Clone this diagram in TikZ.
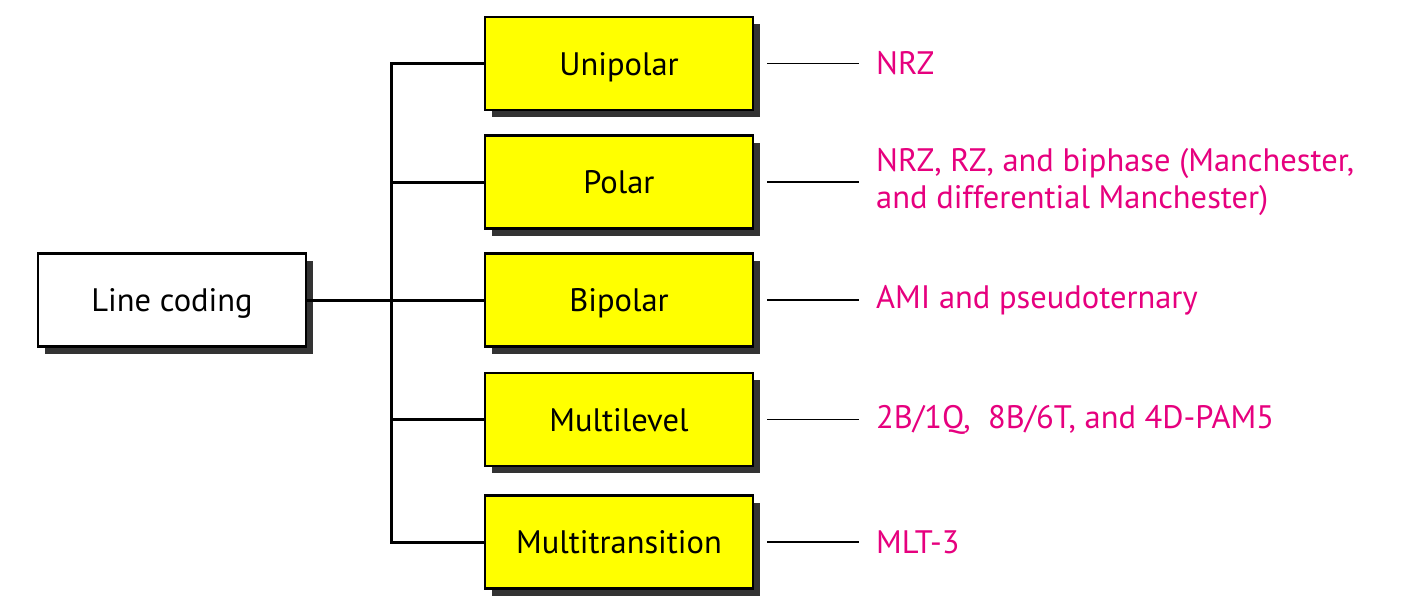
\documentclass[tikz,border=0pt]{standalone}
\usepackage{fontspec}
\setmainfont{PT Sans}
\usetikzlibrary{shadows}
\definecolor{boxyellow}{RGB}{255,255,0}
\definecolor{shadowgray}{RGB}{51,51,51}
\definecolor{labelmagenta}{RGB}{230,0,126}
\tikzset{
  basebox/.style={draw=black, line width=2.5pt, minimum width=268pt, minimum height=93pt,
    inner sep=0pt, text height=23pt, text depth=0pt, font=\fontsize{32.5}{37}\selectfont,
    general shadow={fill=shadowgray, shadow xshift=7pt, shadow yshift=-7pt}},
  rootbox/.style={basebox, fill=white},
  catbox/.style={basebox, fill=boxyellow},
  trunkline/.style={line width=3pt},
  leafline/.style={line width=1.6pt},
  leaflabel/.style={anchor=west, inner xsep=17pt, inner ysep=0pt, align=left,
    text=labelmagenta, font=\fontsize{32.5}{37}\selectfont}
}
\begin{document}
\begin{tikzpicture}[x=1pt,y=-1pt]
\useasboundingbox (0,0) rectangle (1406,606);
\node[rootbox] (lc) at (172,300) {Line coding};
\node[catbox] (u)  at (619,63.5) {Unipolar};
\node[catbox] (p)  at (619,182) {Polar};
\node[catbox] (b)  at (619,300) {Bipolar};
\node[catbox] (ml) at (619,419.5) {Multilevel};
\node[catbox] (mt) at (619,542) {Multitransition};
\node[leaflabel] (lu)  at (859,63.5) {NRZ};
\node[leaflabel] (lp)  at (859,182) {NRZ, RZ, and biphase (Manchester,\\and differential Manchester)};
\node[leaflabel] (lb)  at (859,300) {AMI and pseudoternary};
\node[leaflabel] (lml) at (859,419.5) {2B/1Q,\ \ 8B/6T, and 4D-PAM5};
\node[leaflabel] (lmt) at (859,542) {MLT-3};
\draw[trunkline] (u.west) -- ++(-92,0) |- (mt.west);
\draw[trunkline] (lc.east) -- (b.west);
\draw[trunkline] (p.west) -- ++(-92,0);
\draw[trunkline] (ml.west) -- ++(-92,0);
\foreach \a/\c in {u/lu, p/lp, b/lb, ml/lml, mt/lmt}{
  \draw[leafline] ([xshift=13pt]\a.east) -- (\c.west);
}
\end{tikzpicture}
\end{document}
